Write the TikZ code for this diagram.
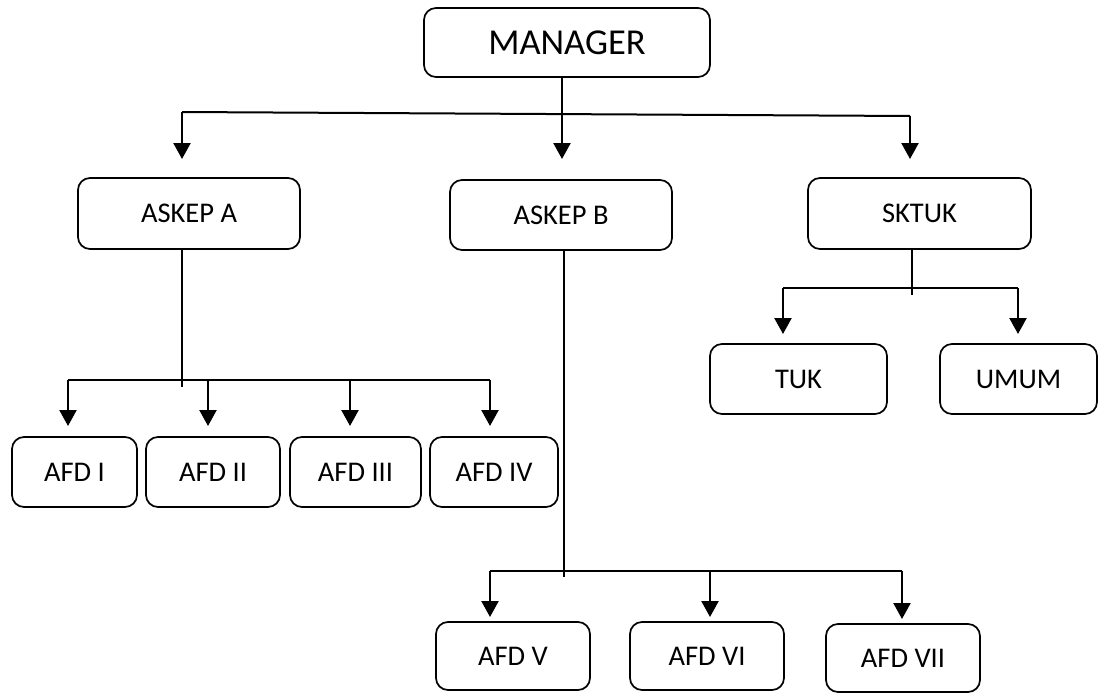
\documentclass[tikz,border=0pt]{standalone}
\usepackage{fontspec}
\setmainfont{Carlito}
\usetikzlibrary{arrows.meta}
\tikzset{
  box/.style={draw, line width=1.7pt, rounded corners=12pt, inner sep=0pt,
    font=\fontsize{28.5}{31}\selectfont},
  trunk/.style={line width=1.5pt},
  bar/.style={line width=2pt},
  arr/.style={line width=2.3pt, -{Triangle[width=17pt,length=16pt]}}
}
\begin{document}
\begin{tikzpicture}[x=1pt,y=-1pt]
\useasboundingbox (0,0) rectangle (1101,693);
% boxes
\node[box, minimum width=286pt, minimum height=69pt, font=\fontsize{36.5}{40}\selectfont] (mgr) at (567,42.5) {MANAGER};
\node[box, minimum width=222pt, minimum height=71pt] (askA) at (189,213.5) {ASKEP A};
\node[box, minimum width=222pt, minimum height=70pt] (askB) at (561,215) {ASKEP B};
\node[box, minimum width=223pt, minimum height=71pt] (sktuk) at (919.5,213.5) {SKTUK};
\node[box, minimum width=177pt, minimum height=70pt] (tuk) at (798.5,379) {TUK};
\node[box, minimum width=157pt, minimum height=70pt] (umum) at (1018.5,379) {UMUM};
\node[box, minimum width=125pt, minimum height=70pt] (afd1) at (74.5,472) {AFD I};
\node[box, minimum width=134pt, minimum height=70pt] (afd2) at (213,472) {AFD II};
\node[box, minimum width=131pt, minimum height=70pt] (afd3) at (355.5,472) {AFD III};
\node[box, minimum width=128pt, minimum height=70pt] (afd4) at (494,472) {AFD IV};
\node[box, minimum width=154pt, minimum height=68pt] (afd5) at (513,656) {AFD V};
\node[box, minimum width=154pt, minimum height=68pt] (afd6) at (707,656) {AFD VI};
\node[box, minimum width=154pt, minimum height=68pt] (afd7) at (903,658) {AFD VII};
% top level
\coordinate (t0) at (562,114);
\coordinate (tl) at (182,112);
\coordinate (tr) at (910,116);
\draw[trunk] (mgr.south -| t0) -- (t0);
\draw[bar] (tl) -- (tr);
\draw[arr] (tl) -- (tl |- 0,159);
\draw[arr] (t0) -- (t0 |- 0,159);
\draw[arr] (tr) -- (tr |- 0,159);
% ASKEP A
\coordinate (a0) at (182,387);
\coordinate (al) at (68,380);
\coordinate (ar) at (490,380);
\draw[trunk] (askA.south -| a0) -- (a0);
\draw[bar] (al) -- (ar);
\draw[arr] (al) -- (al |- 0,426);
\draw[arr] (208,380) -- (208,426);
\draw[arr] (350,380) -- (350,426);
\draw[arr] (ar) -- (ar |- 0,426);
% ASKEP B
\coordinate (b0) at (564,577);
\coordinate (bl) at (490,571);
\coordinate (br) at (902,571);
\draw[trunk] (askB.south -| b0) -- (b0);
\draw[bar] (bl) -- (br);
\draw[arr] (bl) -- (bl |- 0,617);
\draw[arr] (710,571) -- (710,617);
\draw[arr] (br) -- (br |- 0,619);
% SKTUK
\coordinate (s0) at (912,295);
\coordinate (sl) at (783,288);
\coordinate (sr) at (1018,288);
\draw[trunk] (sktuk.south -| s0) -- (s0);
\draw[bar] (sl) -- (sr);
\draw[arr] (sl) -- (sl |- 0,334);
\draw[arr] (sr) -- (sr |- 0,334);
\end{tikzpicture}
\end{document}
